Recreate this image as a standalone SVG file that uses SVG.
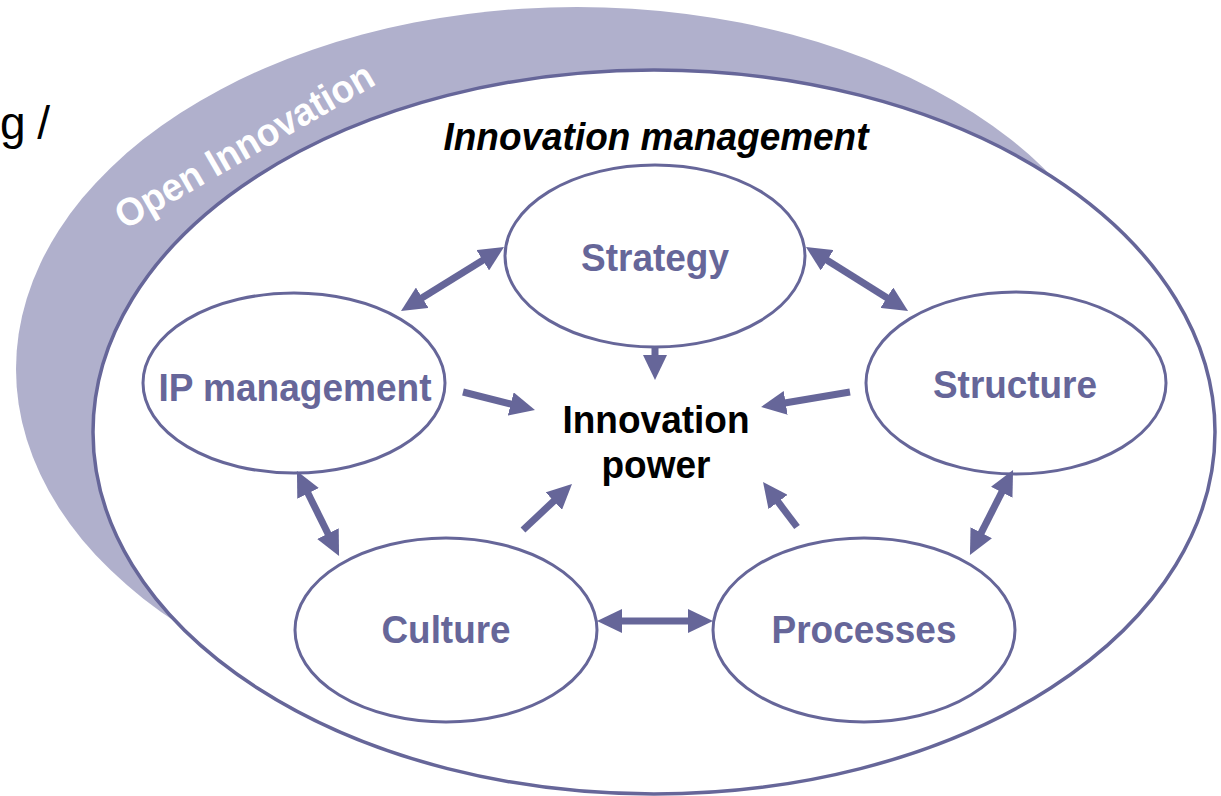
<svg xmlns="http://www.w3.org/2000/svg" width="1221" height="796" viewBox="0 0 1221 796">
<style>
  .lbl { font-family: "Liberation Sans", Arial, sans-serif; font-weight: bold; font-size: 39px; fill: #666699; text-anchor: middle; }
  .blk { font-family: "Liberation Sans", Arial, sans-serif; font-weight: bold; font-size: 39px; fill: #000; text-anchor: middle; }
  .node { fill: #ffffff; stroke: #666699; stroke-width: 3; }
  .arr { stroke: #666699; stroke-width: 7; fill: none; }
  .one { marker-end: url(#head); }
  .two { marker-start: url(#head); marker-end: url(#head); }
</style>
<defs>
  <marker id="head" markerUnits="userSpaceOnUse" viewBox="0 0 25 24" refX="1" refY="12" markerWidth="25" markerHeight="24" orient="auto-start-reverse">
    <path d="M0,0 L25,12 L0,24 z" fill="#666699"/>
  </marker>
</defs>
<rect width="1221" height="796" fill="#ffffff"/>
<g id="open-innovation">
  <ellipse cx="577" cy="369" rx="561" ry="362" fill="#b0b0cc"/>
  <text class="lbl" style="fill:#ffffff" transform="translate(251,157) rotate(-30)" x="0" y="0" textLength="292" lengthAdjust="spacingAndGlyphs">Open Innovation</text>
</g>
<text x="0" y="139" style="font-family:'Liberation Sans',Arial,sans-serif;font-size:46px;fill:#000;word-spacing:-1px">g /</text>
<g id="innovation-management">
  <ellipse cx="654" cy="432" rx="561" ry="362" fill="#ffffff" stroke="#666699" stroke-width="3.5"/>
  <text class="blk" style="font-style:italic" x="656" y="150" textLength="425" lengthAdjust="spacingAndGlyphs">Innovation management</text>
</g>
<g id="strategy">
  <ellipse class="node" cx="655" cy="256" rx="150" ry="91"/>
  <text class="lbl" x="655" y="271" textLength="148" lengthAdjust="spacingAndGlyphs">Strategy</text>
</g>
<g id="ip-management">
  <ellipse class="node" cx="294" cy="383" rx="151" ry="90"/>
  <text class="lbl" x="295" y="401" textLength="273" lengthAdjust="spacingAndGlyphs">IP management</text>
</g>
<g id="structure">
  <ellipse class="node" cx="1016" cy="383" rx="150" ry="91"/>
  <text class="lbl" x="1015" y="398" textLength="164" lengthAdjust="spacingAndGlyphs">Structure</text>
</g>
<g id="culture">
  <ellipse class="node" cx="446" cy="630" rx="151" ry="92"/>
  <text class="lbl" x="446" y="643" textLength="129" lengthAdjust="spacingAndGlyphs">Culture</text>
</g>
<g id="processes">
  <ellipse class="node" cx="864" cy="630" rx="151" ry="92"/>
  <text class="lbl" x="864" y="643" textLength="185" lengthAdjust="spacingAndGlyphs">Processes</text>
</g>
<g id="innovation-power">
  <text class="blk" x="656" y="433" textLength="187" lengthAdjust="spacingAndGlyphs">Innovation</text>
  <text class="blk" x="656" y="478" textLength="109" lengthAdjust="spacingAndGlyphs">power</text>
</g>
<g id="connectors">
  <line class="arr two" x1="421.4" y1="298.3" x2="483.6" y2="259.7"/>
  <line class="arr two" x1="826.3" y1="259.8" x2="887.7" y2="298.2"/>
  <line class="arr one" x1="655" y1="346" x2="655" y2="356"/>
  <line class="arr one" x1="463" y1="392" x2="511.7" y2="404.2"/>
  <line class="arr one" x1="850" y1="392" x2="784.7" y2="403"/>
  <line class="arr two" x1="307.6" y1="492.5" x2="328.4" y2="534.5"/>
  <line class="arr two" x1="1002.2" y1="491.4" x2="980.8" y2="533.6"/>
  <line class="arr one" x1="523" y1="530" x2="554.5" y2="500.4"/>
  <line class="arr one" x1="797" y1="527" x2="777.5" y2="501.2"/>
  <line class="arr two" x1="621" y1="621" x2="689" y2="621"/>
</g>
</svg>
